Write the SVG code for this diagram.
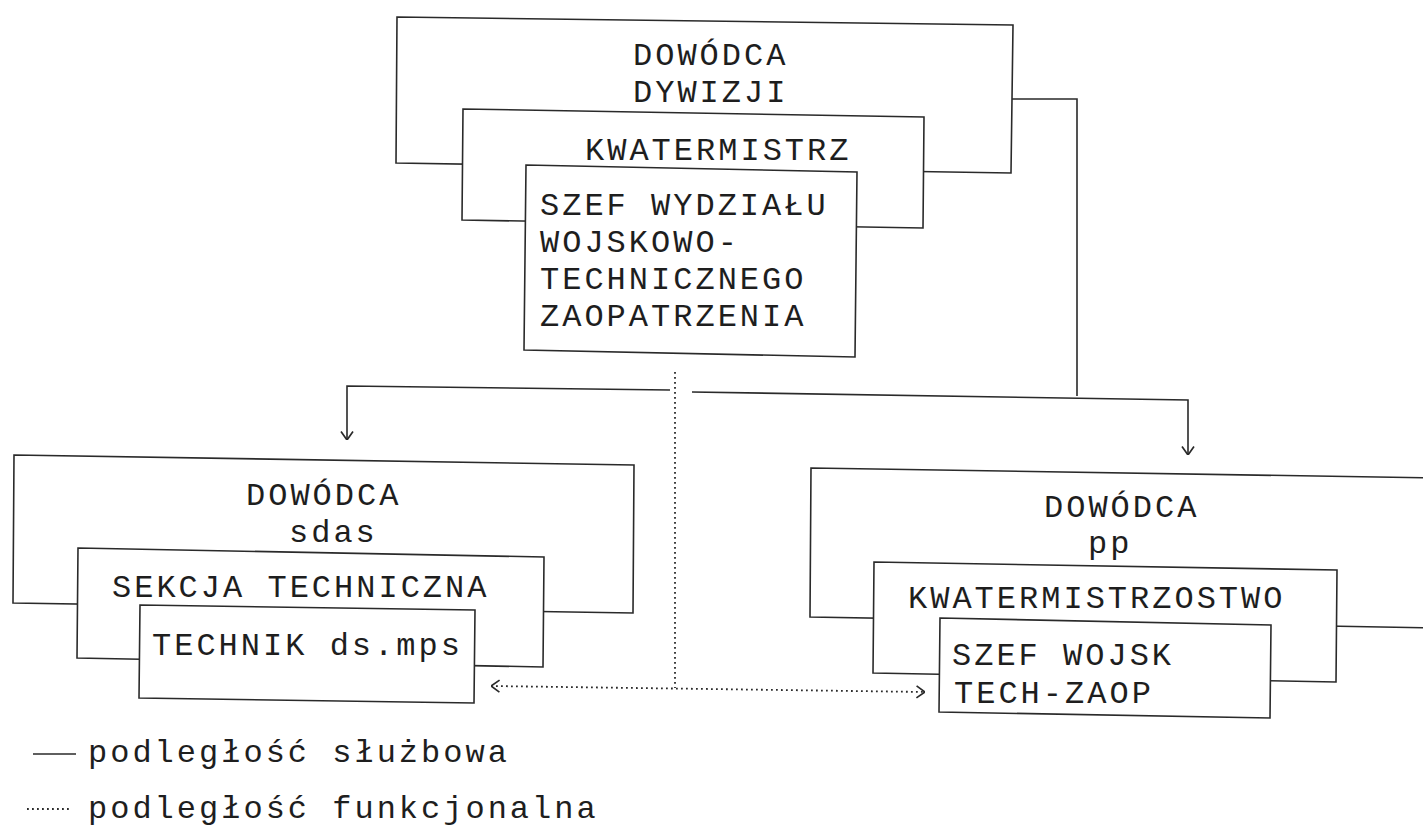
<svg xmlns="http://www.w3.org/2000/svg" width="1423" height="826" viewBox="0 0 1423 826">
<style>
.box{fill:#fff;stroke:#2a2a2a;stroke-width:1.6}
.t{font-family:"Liberation Mono","DejaVu Sans Mono",monospace;font-size:32px;letter-spacing:3px;fill:#1e1e1e}
.c{fill:none;stroke:#2a2a2a;stroke-width:1.6}
.d{fill:none;stroke:#2a2a2a;stroke-width:1.8;stroke-dasharray:1.8 3.2}
</style>
<defs>
<marker id="ah" viewBox="0 0 10 14" refX="10" refY="7" markerWidth="10" markerHeight="14" markerUnits="userSpaceOnUse" orient="auto">
<path d="M1.5,1 L10,7 L1.5,13" fill="none" stroke="#2a2a2a" stroke-width="1.7"/>
</marker>
<marker id="ahs" viewBox="0 0 10 14" refX="10" refY="7" markerWidth="10" markerHeight="14" markerUnits="userSpaceOnUse" orient="auto-start-reverse">
<path d="M1.5,1 L10,7 L1.5,13" fill="none" stroke="#2a2a2a" stroke-width="1.7"/>
</marker>
</defs>
<rect width="1423" height="826" fill="#fff"/>

<g id="connectors">
<path class="c" d="M1011,99 H1077 V396"/>
<path class="c" d="M670,390 L347,386 V440" marker-end="url(#ah)"/>
<path class="c" d="M692,392 L1188,400 V455" marker-end="url(#ah)"/>
<path class="d" d="M675,372 V688"/>
<path class="d" d="M491,686 L925,692" marker-start="url(#ahs)" marker-end="url(#ah)"/>
</g>

<g id="dowodca-dywizji">
<polygon class="box" points="397,17 1013,25 1011,173 396,163"/>
<text class="t" x="633" y="65">DOWÓDCA</text>
<text class="t" x="633" y="102">DYWIZJI</text>
</g>
<g id="kwatermistrz">
<polygon class="box" points="463,109 924,117 923,228 462,220"/>
<text class="t" x="585" y="160">KWATERMISTRZ</text>
</g>
<g id="szef-wydzialu">
<polygon class="box" points="526,165 857,172 855,357 524,350"/>
<text class="t" x="540" y="215">SZEF WYDZIAŁU</text>
<text class="t" x="540" y="252">WOJSKOWO-</text>
<text class="t" x="540" y="289">TECHNICZNEGO</text>
<text class="t" x="540" y="326">ZAOPATRZENIA</text>
</g>

<g id="dowodca-sdas">
<polygon class="box" points="14,455 634,465 633,613 13,603"/>
<text class="t" x="246" y="505">DOWÓDCA</text>
<text class="t" x="289" y="542">sdas</text>
</g>
<g id="sekcja-techniczna">
<polygon class="box" points="78,548 544,557 543,667 77,658"/>
<text class="t" x="112" y="597">SEKCJA TECHNICZNA</text>
</g>
<g id="technik">
<polygon class="box" points="140,605 475,610 474,703 139,698"/>
<text class="t" x="152" y="655">TECHNIK ds.mps</text>
</g>

<g id="dowodca-pp">
<polygon class="box" points="811,468 1440,478 1440,628 810,617"/>
<text class="t" x="1044" y="517">DOWÓDCA</text>
<text class="t" x="1088" y="553">pp</text>
</g>
<g id="kwatermistrzostwo">
<polygon class="box" points="874,562 1337,570 1336,682 873,673"/>
<text class="t" x="908" y="608">KWATERMISTRZOSTWO</text>
</g>
<g id="szef-wojsk">
<polygon class="box" points="940,618 1271,625 1270,718 939,712"/>
<text class="t" x="952" y="665">SZEF WOJSK</text>
<text class="t" x="954" y="703">TECH-ZAOP</text>
</g>

<g id="legend">
<line class="c" x1="33" y1="754" x2="76" y2="754"/>
<text class="t" x="88" y="762">podległość służbowa</text>
<line class="d" x1="27" y1="809" x2="72" y2="809"/>
<text class="t" x="88" y="818">podległość funkcjonalna</text>
</g>
</svg>
